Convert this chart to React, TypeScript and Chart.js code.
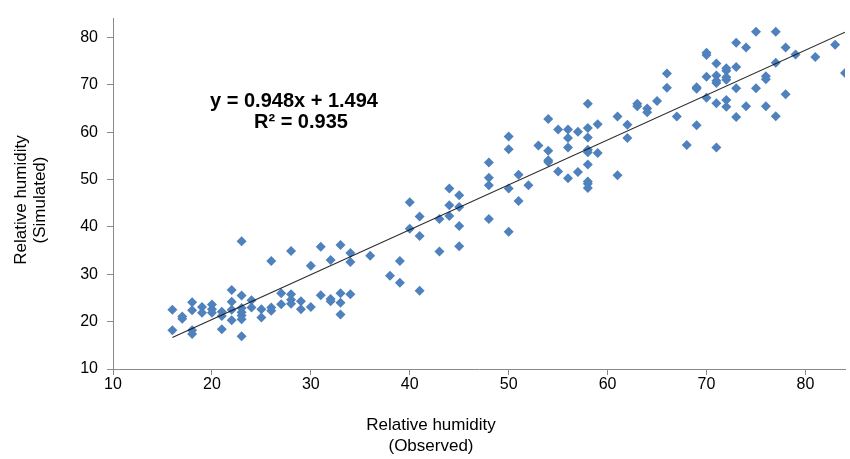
import { useEffect, useRef } from "react";
import { Chart, registerables } from "chart.js";
Chart.register(...registerables);

// Observed relative humidity (x) and simulated relative humidity (y)
const observed = [
  16, 16, 17, 17, 18, 18, 18, 18, 19, 19,
  20, 20, 20, 21, 21, 21, 22, 22, 22, 22,
  23, 23, 23, 23, 23, 23, 23, 24, 24, 25,
  25, 26, 26, 26, 27, 27, 28, 28, 28, 28,
  29, 29, 30, 30, 31, 31, 32, 32, 32, 33,
  33, 33, 33, 34, 34, 34, 36, 38, 39, 39,
  40, 40, 41, 41, 41, 43, 43, 44, 44, 44,
  45, 45, 45, 45, 48, 48, 48, 48, 50, 50,
  50, 50, 51, 51, 52, 53, 54, 54, 54, 54,
  55, 55, 56, 56, 56, 56, 57, 57, 58, 58,
  58, 58, 58, 58, 58, 58, 58, 59, 59, 61,
  61, 62, 62, 63, 63, 64, 64, 65, 66, 66,
  67, 68, 69, 69, 69, 70, 70, 70, 70, 71,
  71, 71, 71, 71, 71, 72, 72, 72, 72, 72,
  72, 73, 73, 73, 73, 74, 74, 75, 75, 76,
  76, 76, 77, 77, 77, 78, 78, 79, 81, 83,
  84,
];
const simulated = [
  22.5, 18.2, 21.1, 20.6, 24.1, 22.4, 18.2, 17.4, 23.1, 21.9,
  23.6, 22.6, 21.9, 22.1, 21.2, 18.4, 26.7, 24.2, 22.5, 20.3,
  37.0, 25.5, 22.9, 22.0, 21.3, 20.5, 16.9, 24.5, 23.0, 22.6,
  20.9, 32.8, 23.0, 22.3, 26.0, 23.7, 34.9, 25.8, 24.6, 23.8,
  24.3, 22.6, 31.8, 23.1, 35.8, 25.6, 33.0, 24.8, 24.3, 36.2,
  26.0, 24.0, 21.5, 34.5, 32.6, 25.8, 33.9, 29.7, 32.8, 28.2,
  45.2, 39.6, 42.2, 38.1, 26.5, 41.7, 34.8, 48.1, 44.6, 42.3,
  46.7, 44.2, 40.2, 35.9, 53.6, 50.4, 48.8, 41.7, 59.1, 56.4,
  48.1, 39.0, 51.0, 45.5, 48.8, 57.2, 62.8, 56.1, 54.1, 53.7,
  60.6, 51.7, 60.6, 58.8, 56.8, 50.3, 60.1, 51.6, 66.0, 60.9,
  58.9, 56.3, 55.8, 53.2, 49.6, 49.1, 48.2, 61.7, 55.6, 63.3,
  50.9, 61.6, 58.8, 66.0, 65.5, 65.0, 64.2, 66.6, 72.4, 69.4,
  63.3, 57.3, 69.5, 69.2, 61.5, 76.8, 76.3, 71.7, 67.3, 74.5,
  72.0, 70.9, 70.4, 66.1, 56.8, 73.5, 73.0, 71.6, 71.1, 66.8,
  65.4, 78.9, 73.8, 69.3, 63.2, 77.9, 65.5, 81.2, 69.3, 71.8,
  71.2, 65.5, 81.2, 74.7, 63.4, 77.9, 68.0, 76.4, 75.9, 78.5,
  72.5,
];

// Linear trendline shown on the chart
const trendSlope = 0.948;
const trendIntercept = 1.494;
const trendRange = [16, 84];
const equationLabel = "y = 0.948x + 1.494";
const r2Label = "R\u00B2 = 0.935";

const xTicks = [10, 20, 30, 40, 50, 60, 70, 80];
const yTicks = [10, 20, 30, 40, 50, 60, 70, 80];
const xTitle = ["Relative humidity", "(Observed)"];
const yTitle = ["Relative humidity", "(Simulated)"];

const FONT = '"Liberation Sans", Arial, Helvetica, sans-serif';
const AXIS_COLOR = "#8a8a8a";
const MARKER_COLOR = "#4F81BD";

export default function App() {
  const ref = useRef<HTMLCanvasElement>(null);

  useEffect(() => {
    document.body.style.margin = "0";
    const canvas = ref.current;
    if (!canvas) return;

    const points = observed.map((x, i) => ({ x, y: simulated[i] }));
    const trend = trendRange.map((x) => ({ x, y: trendSlope * x + trendIntercept }));

    const textPlugin = {
      id: "texts",
      afterDraw(chart: any) {
        const ctx = chart.ctx as CanvasRenderingContext2D;
        const xs = chart.scales.x;
        const ys = chart.scales.y;
        ctx.save();
        ctx.fillStyle = "#000";
        ctx.textAlign = "center";
        ctx.textBaseline = "alphabetic";
        ctx.font = `bold 20px ${FONT}`;
        ctx.fillText(equationLabel, xs.getPixelForValue(28.3), ys.getPixelForValue(65.4));
        ctx.fillText(r2Label, xs.getPixelForValue(29.0), ys.getPixelForValue(61.0));

        ctx.font = `17px ${FONT}`;
        ctx.textBaseline = "middle";
        ctx.fillText(xTitle[0], 431, 425);
        ctx.fillText(xTitle[1], 431, 446);

        ctx.translate(21, 200);
        ctx.rotate(-Math.PI / 2);
        ctx.fillText(yTitle[0], 0, 0);
        ctx.fillText(yTitle[1], 0, 19);
        ctx.restore();
      },
    };

    const chart = new Chart(canvas, {
      type: "scatter",
      data: {
        datasets: [
          {
            type: "line",
            data: trend,
            borderColor: "rgba(20,20,20,0.9)",
            borderWidth: 1.2,
            pointRadius: 0,
            fill: false,
            showLine: true,
          } as any,
          {
            data: points,
            pointStyle: "rectRot",
            pointRadius: 5,
            pointHoverRadius: 5,
            backgroundColor: MARKER_COLOR,
            borderColor: MARKER_COLOR,
            borderWidth: 0,
          },
        ],
      },
      options: {
        responsive: false,
        animation: false,
        events: [],
        layout: { padding: { top: 8, right: 5, left: 0, bottom: 0 } },
        plugins: {
          legend: { display: false },
          tooltip: { enabled: false },
        },
        scales: {
          x: {
            type: "linear",
            position: "bottom",
            min: 10,
            max: 84,
            afterBuildTicks: (s: any) => {
              s.ticks = xTicks.map((v) => ({ value: v }));
            },
            afterFit: (s: any) => {
              s.height = 90;
            },
            ticks: {
              color: "#000",
              font: { family: FONT, size: 16 },
              padding: 0,
              maxRotation: 0,
              autoSkip: false,
            },
            grid: {
              drawOnChartArea: false,
              drawTicks: true,
              tickLength: 6,
              color: AXIS_COLOR,
            },
            border: { display: true, color: AXIS_COLOR, width: 1 },
          },
          y: {
            type: "linear",
            min: 10,
            max: 84,
            afterBuildTicks: (s: any) => {
              s.ticks = yTicks.map((v) => ({ value: v }));
            },
            afterFit: (s: any) => {
              s.width = 113;
            },
            ticks: {
              color: "#000",
              font: { family: FONT, size: 16 },
              padding: 9,
              autoSkip: false,
            },
            grid: {
              drawOnChartArea: false,
              drawTicks: true,
              tickLength: 6,
              color: AXIS_COLOR,
            },
            border: { display: true, color: AXIS_COLOR, width: 1 },
          },
        },
      },
      plugins: [textPlugin],
    });

    return () => chart.destroy();
  }, []);

  return (
    <div style={{ position: "absolute", left: 0, top: 0, width: 850, height: 459, background: "#fff" }}>
      <canvas ref={ref} width={850} height={459} style={{ display: "block" }} />
    </div>
  );
}
